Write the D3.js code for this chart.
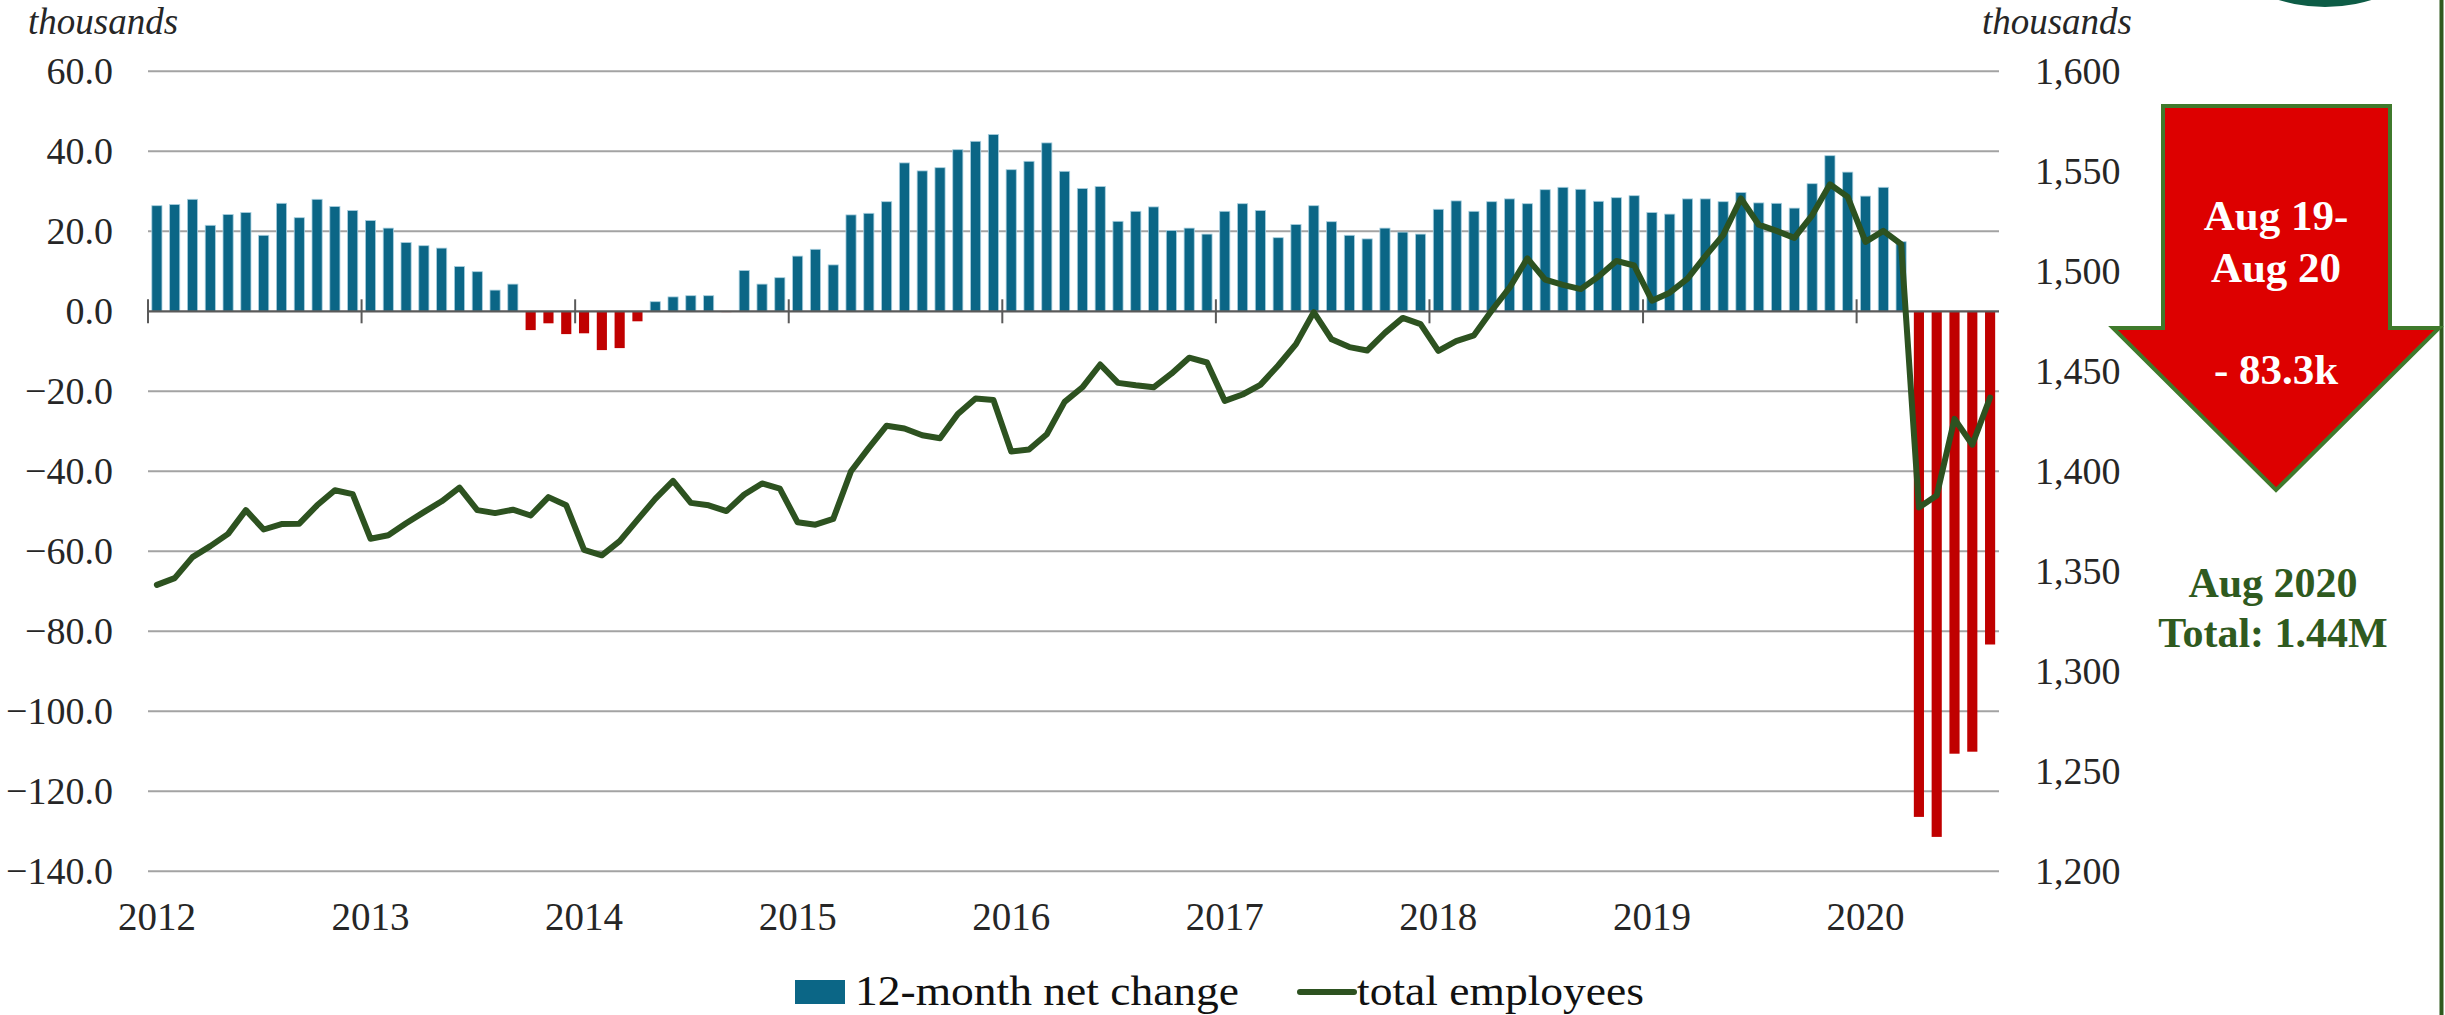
<!DOCTYPE html>
<html>
<head>
<meta charset="utf-8">
<script src="https://cdn.jsdelivr.net/npm/d3@7"></script>
<style>
  html, body { margin: 0; padding: 0; background: #fff; }
  svg { display: block; }
  text { font-family: "Liberation Serif", "DejaVu Serif", serif; }
</style>
</head>
<body>
<svg id="chart" width="2445" height="1015"></svg>
<script>
// ---------------- DATA ----------------
const startMonth = "2012-01";
const yearLabels = ["2012","2013","2014","2015","2016","2017","2018","2019","2020"];

// 12-month net change (thousands), Jan 2012 .. Aug 2020
const netChange = [
  26.4, 26.7, 28.0, 21.5, 24.2, 24.7, 19.0, 27.0, 23.4, 28.0, 26.2, 25.2,
  22.7, 20.8, 17.2, 16.4, 15.8, 11.2,  9.9,  5.3,  6.8, -4.7, -3.0, -5.7,
  -5.5, -9.7, -9.2, -2.5,  2.4,  3.6,  3.9,  3.9, -0.2, 10.2,  6.8,  8.4,
  13.8, 15.5, 11.6, 24.1, 24.5, 27.4, 37.1, 35.1, 35.9, 40.4, 42.5, 44.2,
  35.4, 37.5, 42.1, 35.0, 30.7, 31.2, 22.5, 25.0, 26.1, 20.2, 20.8, 19.3,
  25.0, 26.9, 25.2, 18.4, 21.7, 26.4, 22.4, 19.0, 18.1, 20.8, 19.8, 19.3,
  25.5, 27.6, 25.0, 27.4, 28.1, 26.9, 30.4, 31.0, 30.5, 27.5, 28.4, 28.9,
  24.7, 24.3, 28.1, 28.1, 27.4, 29.7, 27.1, 27.0, 25.8, 31.9, 38.9, 34.8,
  28.8, 31.0, 17.4, -126.4, -131.4, -110.6, -110.1, -83.3
];

// total employees (thousands), Jan 2012 .. Aug 2020
const totalEmployees = [
  1343.2, 1346.6, 1357.1, 1362.6, 1368.7, 1380.6, 1370.9, 1373.6, 1373.8, 1383.0, 1390.5, 1388.6,
  1366.3, 1368.0, 1374.0, 1379.6, 1385.0, 1391.8, 1380.6, 1379.1, 1380.8, 1377.9, 1387.1, 1383.0,
  1360.7, 1358.0, 1365.1, 1375.7, 1386.2, 1395.2, 1384.2, 1383.0, 1380.1, 1388.4, 1393.9, 1391.3,
  1374.5, 1373.3, 1376.2, 1400.0, 1411.7, 1422.8, 1421.4, 1418.0, 1416.5, 1428.7, 1436.4, 1435.7,
  1409.9, 1410.9, 1418.5, 1434.7, 1442.0, 1453.4, 1444.2, 1443.0, 1442.0, 1448.8, 1456.8, 1454.4,
  1435.2, 1438.4, 1443.2, 1452.9, 1463.6, 1479.6, 1466.0, 1462.1, 1460.4, 1469.2, 1476.7, 1473.6,
  1460.2, 1465.1, 1468.0, 1480.4, 1491.8, 1506.5, 1495.8, 1493.2, 1491.1, 1497.4, 1505.2, 1502.9,
  1485.3, 1489.3, 1496.3, 1507.6, 1518.1, 1536.4, 1523.3, 1520.2, 1516.7, 1528.0, 1543.5, 1537.2,
  1514.7, 1520.2, 1513.6, 1381.9, 1387.9, 1426.2, 1413.3, 1436.9
];

const leftTicks = [-140, -120, -100, -80, -60, -40, -20, 0, 20, 40, 60];
const rightTicks = [1200, 1250, 1300, 1350, 1400, 1450, 1500, 1550, 1600];
const legendLabels = ["12-month net change", "total employees"];
const arrowLines = ["Aug 19-", "Aug 20", "- 83.3k"];
const totalLines = ["Aug 2020", "Total: 1.44M"];

// ---------------- CHART ----------------
(function () {
const parse = d3.timeParse("%Y-%m");
const t0 = parse(startMonth);
const months = netChange.map((d, i) => d3.timeMonth.offset(t0, i));

const svg = d3.select("#chart");
const pLeft = 148, pRight = 1999, pTop = 71.3, pBottom = 871.3;

const x = d3.scaleBand().domain(d3.range(months.length)).range([pLeft, pRight]).paddingInner(0.43).paddingOuter(0.215);
const yL = d3.scaleLinear().domain([-140, 60]).range([pBottom, pTop]);
const yR = d3.scaleLinear().domain([1200, 1600]).range([pBottom, pTop]);

const blue = "#0b6686", red = "#c00000", green = "#2d5220", txt = "#262626";

// gridlines
svg.append("g").selectAll("line").data(leftTicks.filter(d => d !== 0)).join("line")
  .attr("x1", pLeft).attr("x2", pRight)
  .attr("y1", d => yL(d)).attr("y2", d => yL(d))
  .attr("stroke", "#a3a3a3").attr("stroke-width", 2);

// left axis labels
const gL = svg.append("g").attr("transform", `translate(${pLeft},0)`)
  .call(d3.axisLeft(yL).tickValues(leftTicks).tickFormat(d3.format(".1f")).tickSize(0).tickPadding(35));
gL.select(".domain").remove();
gL.selectAll("text").attr("font-size", 38).attr("fill", txt).attr("font-family", "Liberation Serif");

// right axis labels
const gR = svg.append("g").attr("transform", `translate(${pRight},0)`)
  .call(d3.axisRight(yR).tickValues(rightTicks).tickFormat(d3.format(",")).tickSize(0).tickPadding(36));
gR.select(".domain").remove();
gR.selectAll("text").attr("font-size", 38).attr("fill", txt).attr("font-family", "Liberation Serif");

// bars
svg.append("g").selectAll("rect").data(netChange).join("rect")
  .attr("x", (d, i) => x(i))
  .attr("width", x.bandwidth())
  .attr("y", d => d >= 0 ? yL(d) : yL(0))
  .attr("height", d => Math.abs(yL(d) - yL(0)))
  .attr("fill", d => d >= 0 ? blue : red)
  .attr("stroke", d => d >= 0 ? "#a9cfdf" : "none")
  .attr("stroke-width", 0.8);

// zero axis line
svg.append("line").attr("x1", pLeft).attr("x2", pRight)
  .attr("y1", yL(0)).attr("y2", yL(0))
  .attr("stroke", "#5a5a5a").attr("stroke-width", 2.2);

// year ticks and labels
const step = x.step();
const yearIdx = yearLabels.map(y => months.findIndex(m => m.getFullYear() === +y && m.getMonth() === 0));
svg.append("g").selectAll("line").data(yearIdx).join("line")
  .attr("x1", i => x(i) - step * x.paddingInner() / 2)
  .attr("x2", i => x(i) - step * x.paddingInner() / 2)
  .attr("y1", yL(0) - 12).attr("y2", yL(0) + 12)
  .attr("stroke", "#5a5a5a").attr("stroke-width", 2);
svg.append("g").selectAll("text").data(yearIdx).join("text")
  .attr("x", i => x(i) + x.bandwidth() / 2)
  .attr("y", 930)
  .attr("text-anchor", "middle")
  .attr("font-size", 39).attr("fill", txt)
  .text((i, k) => yearLabels[k]);

// line
const line = d3.line().x((d, i) => x(i) + x.bandwidth() / 2).y(d => yR(d));
svg.append("path").datum(totalEmployees)
  .attr("d", line).attr("fill", "none")
  .attr("stroke", green).attr("stroke-width", 6).attr("stroke-linejoin", "round").attr("stroke-linecap", "round");

// unit labels
svg.append("text").attr("x", 28).attr("y", 34).attr("font-size", 37).attr("font-style", "italic").attr("fill", txt).text("thousands");
svg.append("text").attr("x", 2132).attr("y", 34).attr("text-anchor", "end").attr("font-size", 37).attr("font-style", "italic").attr("fill", txt).text("thousands");

// legend
svg.append("rect").attr("x", 795).attr("y", 980).attr("width", 50).attr("height", 24).attr("fill", blue);
svg.append("text").attr("x", 855).attr("y", 1005).attr("font-size", 42).attr("fill", "#111")
  .attr("textLength", 384).attr("lengthAdjust", "spacingAndGlyphs").text(legendLabels[0]);
svg.append("line").attr("x1", 1300).attr("x2", 1354).attr("y1", 992).attr("y2", 992)
  .attr("stroke", green).attr("stroke-width", 6).attr("stroke-linecap", "round");
svg.append("text").attr("x", 1357).attr("y", 1005).attr("font-size", 42).attr("fill", "#111")
  .attr("textLength", 287).attr("lengthAdjust", "spacingAndGlyphs").text(legendLabels[1]);

// top-right logo fragment
svg.append("circle").attr("cx", 2325).attr("cy", -150).attr("r", 157).attr("fill", "#0d5c46");

// right border line
svg.append("line").attr("x1", 2441.5).attr("x2", 2441.5).attr("y1", 0).attr("y2", 1015)
  .attr("stroke", "#2e5a1e").attr("stroke-width", 4);

// arrow annotation
const arrowPts = [[2163,106],[2390,106],[2390,328],[2439,328],[2276,490],[2113,328],[2163,328]];
svg.append("path").attr("d", "M" + arrowPts.map(p => p.join(",")).join("L") + "Z")
  .attr("fill", "#dd0000").attr("stroke", "#3f7a2c").attr("stroke-width", 4).attr("stroke-linejoin", "miter");
const arrowY = [230, 282, 384];
svg.append("g").selectAll("text").data(arrowLines).join("text")
  .attr("x", 2276).attr("y", (d, i) => arrowY[i])
  .attr("text-anchor", "middle").attr("font-size", 43).attr("font-weight", "bold").attr("fill", "#fff")
  .text(d => d);

const totY = [597, 647];
svg.append("g").selectAll("text").data(totalLines).join("text")
  .attr("x", 2273).attr("y", (d, i) => totY[i])
  .attr("text-anchor", "middle").attr("font-size", 42).attr("font-weight", "bold").attr("fill", "#2f5a1f")
  .text(d => d);
})();
</script>
</body>
</html>
